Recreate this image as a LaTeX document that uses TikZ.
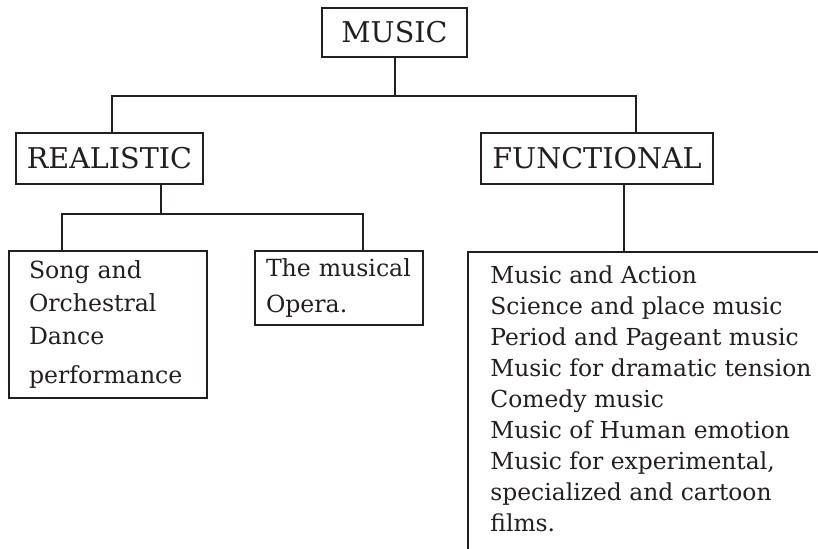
\documentclass[tikz,border=0pt]{standalone}
\usepackage{fontspec}
\setmainfont{DejaVu Serif}
\definecolor{ink}{HTML}{231F20}
\begin{document}
\begin{tikzpicture}[x=0.5pt,y=-0.5pt]
		\tikzset{box/.style = {draw=ink, text=ink, line width=1pt, inner sep=0pt}}
		\tikzset{head/.style = {box, font=\fontsize{14.3}{17}\selectfont}}
		\tikzset{leaf/.style = {box, align=left, font=\fontsize{11.8}{16.5}\selectfont}}
		\tikzset{list/.style = {text=ink, align=left, inner sep=0pt, font=\fontsize{11.7}{15.5}\selectfont}}
		\tikzset{edge/.style = {draw=ink, line width=1pt}}
		\useasboundingbox (0,0) rectangle (818,549);
		
		\node[head, minimum width=72.5pt, minimum height=24.5pt]  (music)      at (394.5, 32.5) {MUSIC};
		\node[head, minimum width=93.5pt, minimum height=25.5pt]  (realistic)  at (109.5,158.5) {REALISTIC};
		\node[head, minimum width=116pt,  minimum height=25.5pt]  (functional) at (  597,158.5) {FUNCTIONAL};
		\node[leaf, inner xsep=10pt, text width=79pt, minimum height=73.5pt] (song)  at (108,324.5) {Song and\\Orchestral\\Dance\\[3pt]performance};
		\node[leaf, inner xsep=5.5pt, text width=73pt, minimum height=37pt]  (opera) at (339,  288) {The musical\\[1.5pt]Opera.};
		\node[list, anchor=north west] (kinds) at (490,265) {Music and Action\\Science and place music\\Period and Pageant music\\Music for dramatic tension\\Comedy music\\Music of Human emotion\\Music for experimental,\\specialized and cartoon\\films.};
		
		\coordinate (jr) at (112, 96.5);
		\coordinate (jf) at (636, 96.5);
		\coordinate (rm) at (161,  214);
		\coordinate (rs) at ( 62,  214);
		\coordinate (ro) at (363,  214);
		\coordinate (fd) at (624,  252);
		\coordinate (lt) at (468,  252);
		\coordinate (lb) at (468,  549);
		\coordinate (rt) at (818,  252);
		
		\draw[edge] (music) to (music.south |- jr);
		\draw[edge] (realistic.north -| jr) to (jr) to (jf) to (functional.north -| jf);
		\draw[edge] (realistic.south -| rm) to (rm);
		\draw[edge] (song.north -| rs) to (rs) to (ro) to (opera.north -| ro);
		\draw[edge] (functional.south -| fd) to (fd);
		\draw[edge] (lb) to (lt) to (rt);
\end{tikzpicture}
\end{document}
